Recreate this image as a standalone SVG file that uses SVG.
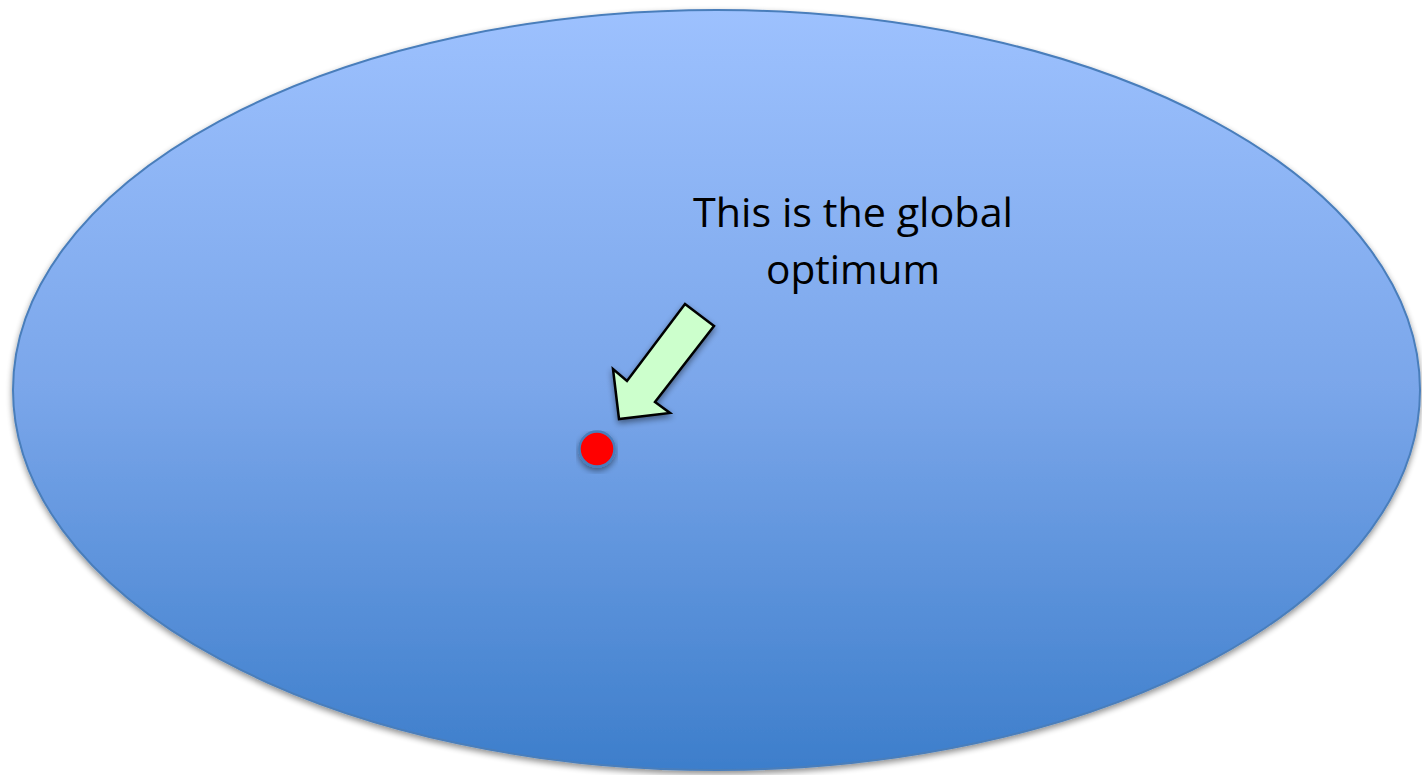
<svg xmlns="http://www.w3.org/2000/svg" width="1422" height="775" viewBox="0 0 1422 775">
  <defs>
    <linearGradient id="bg" x1="0" y1="0" x2="0" y2="1">
      <stop offset="0" stop-color="#9DC1FE"/>
      <stop offset="0.5" stop-color="#7AA6EA"/>
      <stop offset="1" stop-color="#3D7ECB"/>
    </linearGradient>
    <filter id="sh" x="-10%" y="-10%" width="120%" height="130%">
      <feGaussianBlur in="SourceAlpha" stdDeviation="3"/>
      <feOffset dy="3" result="b"/>
      <feComponentTransfer><feFuncA type="linear" slope="0.45"/></feComponentTransfer>
      <feMerge><feMergeNode/><feMergeNode in="SourceGraphic"/></feMerge>
    </filter>
    <style>
      .lbl { font-family: "Open Sans", "Liberation Sans", sans-serif; font-size: 40px; fill: #000; text-anchor: middle; }
    </style>
  </defs>
  <rect width="1422" height="775" fill="#FFFFFF"/>
  <g id="space">
    <ellipse cx="716.5" cy="390" rx="703.5" ry="380" fill="url(#bg)" stroke="#4A7EBB" stroke-width="2" filter="url(#sh)"/>
  </g>
  <g id="label">
    <text class="lbl" x="853" y="227" textLength="320" lengthAdjust="spacingAndGlyphs">This is the global</text>
    <text class="lbl" x="853" y="284" textLength="174" lengthAdjust="spacingAndGlyphs">optimum</text>
  </g>
  <g id="connectors">
    <polygon points="685,304 714,326 655,402 670,413 619,419 613,369 627,381" fill="#CCFFCC" stroke="#000" stroke-width="2.5" stroke-linejoin="miter" filter="url(#sh)"/>
  </g>
  <g id="optimum">
    <circle cx="597" cy="449" r="17.5" fill="#FF0000" stroke="#4A7EBB" stroke-width="2.5" filter="url(#sh)"/>
  </g>
</svg>
